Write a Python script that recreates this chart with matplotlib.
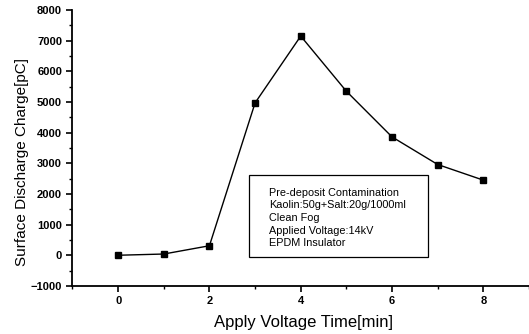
import matplotlib
matplotlib.use("Agg")
import matplotlib.pyplot as plt
from matplotlib.patches import Rectangle
from matplotlib.ticker import MultipleLocator

# data
time_min = [0, 1, 2, 3, 4, 5, 6, 7, 8]
charge_pc = [0, 40, 310, 4970, 7150, 5350, 3860, 2960, 2450]

info_lines = [
    "Pre-deposit Contamination",
    "Kaolin:50g+Salt:20g/1000ml",
    "Clean Fog",
    "Applied Voltage:14kV",
    "EPDM Insulator",
]

plt.rcParams['font.family'] = ['Liberation Sans', 'DejaVu Sans']

fig = plt.figure(figsize=(5.29, 3.34), dpi=100)
ax = fig.add_axes([0.137, 0.144, 0.863, 0.826])

ax.plot(time_min, charge_pc, color='black', linewidth=1.0,
        marker='s', markersize=4.5, markerfacecolor='black')

ax.set_xlim(-1, 9)
ax.set_ylim(-1000, 8000)
ax.xaxis.set_major_locator(MultipleLocator(2))
ax.xaxis.set_minor_locator(MultipleLocator(1))
ax.yaxis.set_major_locator(MultipleLocator(1000))
ax.yaxis.set_minor_locator(MultipleLocator(500))

ax.spines['top'].set_visible(False)
ax.spines['right'].set_visible(False)
ax.spines['left'].set_linewidth(1.3)
ax.spines['bottom'].set_linewidth(1.3)
ax.tick_params(which='major', direction='out', length=4, width=1.2,
               labelsize=8)
ax.tick_params(which='minor', direction='out', length=2, width=1.0)
for lbl in ax.get_xticklabels() + ax.get_yticklabels():
    lbl.set_fontweight('bold')

ax.set_xlabel('Apply Voltage Time[min]', fontsize=12)
ax.set_ylabel('Surface Discharge Charge[pC]', fontsize=11)
ax.xaxis.set_label_coords(0.505, -0.105)
ax.yaxis.set_label_coords(-0.095, 0.449)

# annotation box
ax.add_patch(Rectangle((0.387, 0.105), 0.392, 0.297, transform=ax.transAxes,
                       facecolor='white', edgecolor='black', linewidth=0.9,
                       zorder=3))
for i, line in enumerate(info_lines):
    ax.text(0.431, 0.338 - i * 0.046, line, transform=ax.transAxes,
            fontsize=7.8, va='center', ha='left', zorder=4)

fig.savefig("out.png", dpi=100)
